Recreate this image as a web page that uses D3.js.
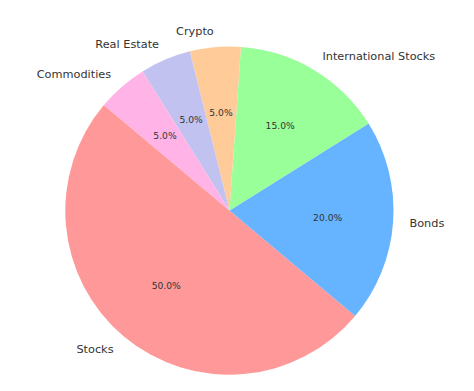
<!DOCTYPE html>
<html>
<head>
<meta charset="utf-8">
<script src="https://cdn.jsdelivr.net/npm/d3@7"></script>
<style>
  body { margin: 0; background: #fff; }
  text { font-family: "DejaVu Sans", sans-serif; fill: #333; }
</style>
</head>
<body>
<div id="chart"></div>
<script>
var labels = ["Stocks", "Bonds", "International Stocks", "Crypto", "Real Estate", "Commodities"];
var shares = [50, 20, 15, 5, 5, 5];
var colors = ["#ff9999", "#66b3ff", "#99ff99", "#ffcc99", "#c2c2f0", "#ffb3e6"];

var w = 474, h = 391;
var cx = 229.5, cy = 210.5, r = 164;

var svg = d3.select("#chart").append("svg")
    .attr("width", w)
    .attr("height", h);

var g = svg.append("g")
    .attr("transform", "translate(" + cx + "," + cy + ")");

// counter-clockwise from 140deg (matplotlib style)
var start = (90 - 140) * Math.PI / 180;
var pie = d3.pie()
    .sort(null)
    .value(function (d) { return d; })
    .startAngle(start)
    .endAngle(start - 2 * Math.PI);

var arc = d3.arc().innerRadius(0).outerRadius(r);
var arcs = pie(shares);

g.selectAll("path")
    .data(arcs)
    .enter().append("path")
    .attr("d", arc)
    .attr("fill", function (d, i) { return colors[i]; });

function pos(d, k) {
    var a = (d.startAngle + d.endAngle) / 2;
    return [k * r * Math.sin(a), -k * r * Math.cos(a)];
}

// outer labels
g.selectAll(".lbl")
    .data(arcs)
    .enter().append("text")
    .attr("class", "lbl")
    .attr("x", function (d) { return pos(d, 1.1)[0]; })
    .attr("y", function (d) { return pos(d, 1.1)[1]; })
    .attr("dy", "0.35em")
    .attr("text-anchor", function (d) { return pos(d, 1.1)[0] > 0 ? "start" : "end"; })
    .style("font-size", "11.3px")
    .text(function (d, i) { return labels[i]; });

// percentages
var total = d3.sum(shares);
g.selectAll(".pct")
    .data(arcs)
    .enter().append("text")
    .attr("class", "pct")
    .attr("x", function (d) { return pos(d, 0.6)[0]; })
    .attr("y", function (d) { return pos(d, 0.6)[1]; })
    .attr("dy", "0.35em")
    .attr("text-anchor", "middle")
    .style("font-size", "9.2px")
    .text(function (d) { return (d.value / total * 100).toFixed(1) + "%"; });
</script>
</body>
</html>
